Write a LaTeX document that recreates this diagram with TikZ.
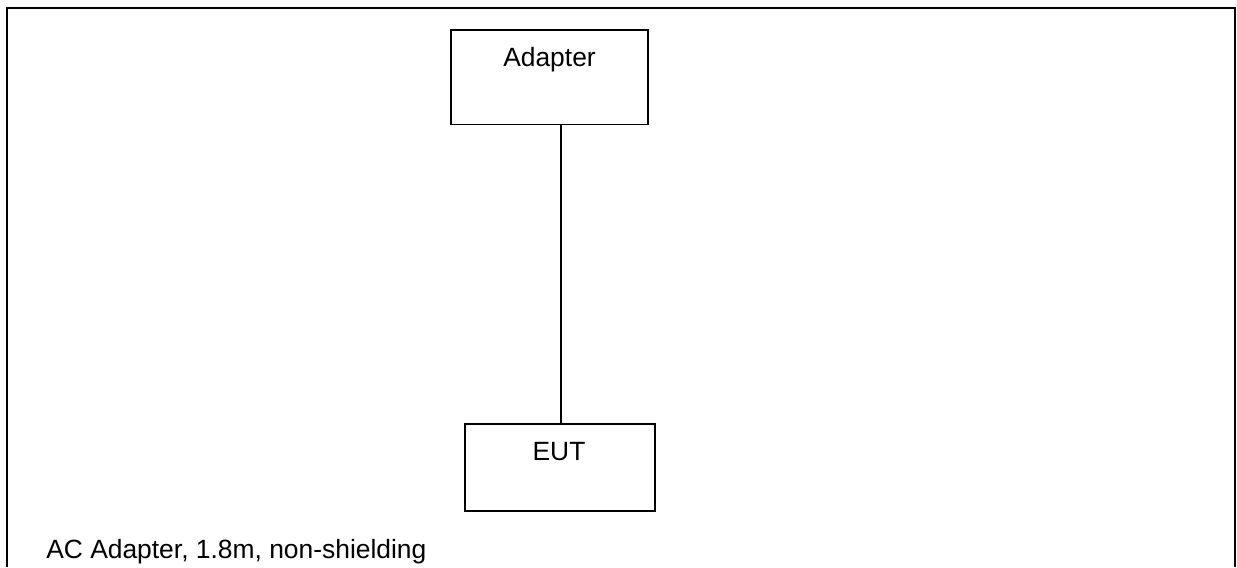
\documentclass[tikz,border=0pt]{standalone}
\usepackage{fontspec}
\setmainfont{Liberation Sans}
\tikzset{
  wire/.style={line width=1.9*0.75pt,black},
  unitbox/.style={draw=black,line width=1.9*0.75pt,inner sep=0pt,outer sep=0pt,anchor=north west},
  lbl/.style={font=\fontsize{19.8pt}{23pt}\selectfont,inner sep=0pt,text=black,anchor=base},
}
\begin{document}
\begin{tikzpicture}[x=0.75pt,y=-0.75pt]
\useasboundingbox (0,0) rectangle (1237,567);
\fill[white] (0,0) rectangle (1237,567);
\draw[wire,line cap=butt,line join=miter] (7,567) -- (7,8) -- (1235,8) -- (1235,567);
\node[unitbox,minimum width=197*0.75pt,minimum height=94.5*0.75pt] (adapter) at (451,30) {};
\node[unitbox,minimum width=190*0.75pt,minimum height=87*0.75pt] (eut) at (465,424) {};
\node[lbl] (adapterlabel) at (549.5,66) {Adapter};
\node[lbl] (eutlabel) at (559,460) {EUT};
\node[lbl,anchor=base west] (caption) at (46,558) {AC Adapter, 1.8m, non-shielding};
\coordinate (wirex) at (561,0);
\draw[wire] (adapter.south -| wirex) -- (eut.north -| wirex);
\end{tikzpicture}
\end{document}
